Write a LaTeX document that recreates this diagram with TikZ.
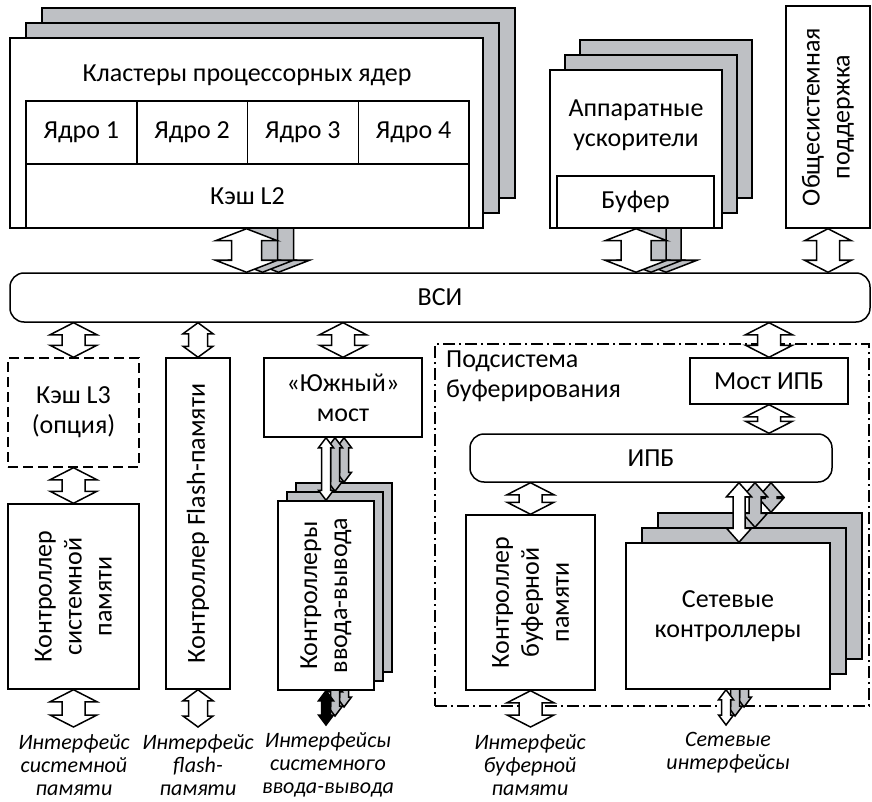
\documentclass[tikz,border=0pt]{standalone}
\usepackage{fontspec}
\setmainfont{Carlito}
\usetikzlibrary{calc}

\definecolor{shade}{RGB}{190,192,196}

\tikzstyle{box}=[draw=black,line width=1.5pt,fill=white,inner sep=0pt,align=center]
\tikzstyle{layer}=[box,fill=shade]
\tikzstyle{rail}=[box,rounded corners=14pt]
\tikzstyle{frame}=[draw=black,line width=1.5pt,dash pattern=on 12pt off 4pt on 2pt off 4pt]
\tikzstyle{bus}=[draw=black,line width=1.5pt,fill=white]
\tikzstyle{busgray}=[bus,fill=shade]
\tikzstyle{busdark}=[bus,fill=black]
\tikzstyle{iface}=[align=center,font=\fontsize{22}{23}\selectfont\itshape]
\tikzstyle{clusbox}=[minimum width=473pt,minimum height=190pt]
\tikzstyle{accbox}=[minimum width=172pt,minimum height=158pt]
\tikzstyle{iobox}=[minimum width=96pt,minimum height=189pt]
\tikzstyle{netbox}=[minimum width=204pt,minimum height=146pt]

% hollow double arrow: top point, bottom point, half head, half shaft, head length
\newcommand{\busarrow}[6][bus]{%
  \draw[#1] let \p1=(#2), \p2=(#3) in
    (\x1,\y1) -- (\x1+#4,\y1-#6) -- (\x1+#5,\y1-#6) -- (\x1+#5,\y2+#6)
    -- (\x1+#4,\y2+#6) -- (\x1,\y2) -- (\x1-#4,\y2+#6) -- (\x1-#5,\y2+#6)
    -- (\x1-#5,\y1-#6) -- (\x1-#4,\y1-#6) -- cycle;}
\newcommand{\widebus}[3][bus]{\busarrow[#1]{#2}{#3}{31pt}{15pt}{12pt}}
\newcommand{\midbus}[3][bus]{\busarrow[#1]{#2}{#3}{23.5pt}{11.5pt}{12pt}}
\newcommand{\slimbus}[3][bus]{\busarrow[#1]{#2}{#3}{15pt}{9.5pt}{11pt}}
\newcommand{\netbus}[3][bus]{\busarrow[#1]{#2}{#3}{12.5pt}{6pt}{14pt}}
\newcommand{\thinbus}[3][bus]{\busarrow[#1]{#2}{#3}{7.5pt}{4.5pt}{10pt}}

\begin{document}
\begin{tikzpicture}[x=1pt,y=-1pt,font=\fontsize{26}{30}\selectfont]
\useasboundingbox (0,0) rectangle (872,802);

% System bus
\node[rail,minimum width=860pt,minimum height=49pt] (vsi) at (440,297.5) {ВСИ};

% Buffering subsystem frame
\node[frame,minimum width=434pt,minimum height=362pt] (bufsys) at (652,525) {};
\node[anchor=north west,align=left,inner sep=0pt] (bufsyslbl) at (446,351) {Подсистема\\буферирования};

% Processor core clusters
\node[layer,clusbox] (clus3) at (278.5,103) {};
\widebus[busgray]{clus3.south}{vsi.north}
\node[layer,clusbox] (clus2) at (262.5,118) {};
\widebus[busgray]{clus2.south}{vsi.north}
\node[box,clusbox] (clus) at (246.5,133) {};
\node (clustitle) at (247,75) {Кластеры процессорных ядер};
\foreach \i in {1,...,4}
  \node[box,minimum width=110.75pt,minimum height=63pt] (core\i) at ({26+110.75*(\i-0.5)},132.5) {Ядро \i};
\node[box,minimum width=443pt,minimum height=64pt] (l2) at (247.5,196) {Кэш L2};
\widebus{clus.south}{vsi.north}

% Hardware accelerators
\node[layer,accbox] (acc3) at (666,119) {};
\widebus[busgray]{acc3.south}{vsi.north}
\node[layer,accbox] (acc2) at (651,134) {};
\widebus[busgray]{acc2.south}{vsi.north}
\node[box,accbox] (acc) at (636,149) {};
\node[align=center] (acctitle) at (636,125) {Аппаратные\\ускорители};
\node[box,minimum width=157pt,minimum height=52pt] (buf) at (635.5,202) {Буфер};
\widebus{acc.south}{vsi.north}

% System support
\node[box,minimum width=84pt,minimum height=222pt] (sys) at (828,117) {};
\node[rotate=90,align=center] (systxt) at (sys.center) {Общесистемная\\поддержка};
\midbus{sys.south}{vsi.north}

% L3 cache, system memory
\node[box,dash pattern=on 10pt off 5pt,minimum width=131pt,minimum height=109pt] (l3) at (73.5,412.5) {Кэш L3\\(опция)};
\midbus{l3.north |- vsi.south}{l3.north}
\node[box,minimum width=131pt,minimum height=185pt] (sysmem) at (73.5,596.5) {};
\node[rotate=90,align=center] (sysmemtxt) at (sysmem.center) {Контроллер\\системной\\памяти};
\midbus{l3.south}{sysmem.north}
\coordinate (sysmemout) at (73.5,727);
\midbus{sysmem.south}{sysmemout}
\node[iface] (sysmemif) at (74,765) {Интерфейс\\системной\\памяти};

% Flash
\node[box,minimum width=64pt,minimum height=331pt] (flash) at (198,523.5) {};
\node[rotate=90] (flashtxt) at (flash.center) {Контроллер Flash-памяти};
\slimbus{flash.north |- vsi.south}{flash.north}
\coordinate (flashout) at (198,727);
\slimbus{flash.south}{flashout}
\node[iface] (flashif) at (198,765) {Интерфейс\\flash-\\памяти};

% South bridge, I/O controllers
\node[box,minimum width=158pt,minimum height=79pt] (sb) at (343,397.5) {«Южный»\\мост};
\midbus{sb.north |- vsi.south}{sb.north}
\coordinate (ioout1) at (326,725);
\coordinate (ioout2) at (335,716);
\coordinate (ioout3) at (344,707);
\node[layer,iobox] (io3) at (344,577.5) {};
\thinbus[busgray]{io3.north |- sb.south}{io3.north}
\thinbus[busgray]{io3.south}{ioout3}
\node[layer,iobox] (io2) at (335,586.5) {};
\thinbus[busgray]{io2.north |- sb.south}{io2.north}
\thinbus[busgray]{io2.south}{ioout2}
\node[box,iobox] (io) at (326,595.5) {};
\node[rotate=90,align=center] (iotxt) at (io.center) {Контроллеры\\ввода-вывода};
\thinbus{io.north |- sb.south}{io.north}
\thinbus[busdark]{io.south}{ioout1}
\node[iface] (ioif) at (328,765) {Интерфейсы\\системного\\ввода-вывода};

% Buffer interconnect
\node[box,minimum width=158pt,minimum height=46pt] (ipbbridge) at (769,381) {Мост ИПБ};
\midbus{ipbbridge.north |- vsi.south}{ipbbridge.north}
\node[rail,minimum width=362pt,minimum height=48pt] (ipb) at (651,458) {ИПБ};
\midbus{ipbbridge.south}{ipb.north}

% Buffer memory
\node[box,minimum width=129pt,minimum height=175pt] (bufmem) at (530.5,602.5) {};
\node[rotate=90,align=center] (bufmemtxt) at (bufmem.center) {Контроллер\\буферной\\памяти};
\midbus{bufmem.north |- ipb.south}{bufmem.north}
\coordinate (bufout) at (530.5,727);
\midbus{bufmem.south}{bufout}
\node[iface] (bufif) at (530,765) {Интерфейс\\буферной\\памяти};

% Network controllers
\coordinate (netout1) at (726,725);
\coordinate (netout2) at (735,716);
\coordinate (netout3) at (744,707);
\node[layer,netbox] (net3) at (760,586) {};
\netbus[busgray]{$(net3.north |- ipb.south)+(11,0)$}{net3.north}
\thinbus[busgray]{netout3 |- net3.south}{netout3}
\node[layer,netbox] (net2) at (744,601) {};
\netbus[busgray]{$(net2.north |- ipb.south)+(11,0)$}{net2.north}
\thinbus[busgray]{netout2 |- net2.south}{netout2}
\node[box,netbox] (net) at (728,616) {Сетевые\\контроллеры};
\netbus{$(net.north |- ipb.south)+(11,0)$}{net.north}
\thinbus{netout1 |- net.south}{netout1}
\node[iface] (netif) at (728,753) {Сетевые\\интерфейсы};

\end{tikzpicture}
\end{document}
